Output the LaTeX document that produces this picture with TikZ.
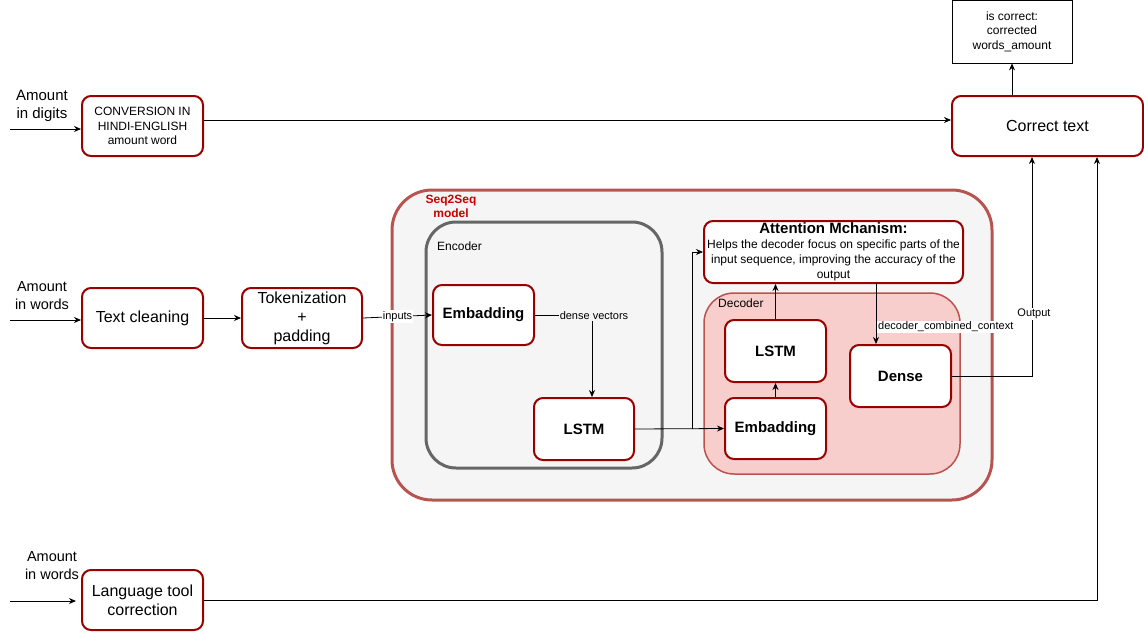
\documentclass[tikz,border=0pt]{standalone}
\usepackage{fontspec}
\setmainfont{Liberation Sans}
\usetikzlibrary{arrows.meta}
\definecolor{dred}{HTML}{990000}
\definecolor{sred}{HTML}{B85450}
\definecolor{lred}{HTML}{F8CECC}
\definecolor{lgray}{HTML}{F5F5F5}
\definecolor{mgray}{HTML}{666666}
\definecolor{tred}{HTML}{CC0000}
\newcommand{\fs}[2]{\fontsize{#1}{#2}\selectfont}
\begin{document}
\begin{tikzpicture}[x=1pt,y=-1pt,
  rbox/.style={draw=dred, line width=2pt, rounded corners=9pt, fill=white, align=center, inner sep=0pt},
  arr/.style={-{Stealth[length=7pt,width=6pt]}, line width=0.8pt},
  lbl/.style={fill=white, inner sep=1pt, font=\fs{11}{13}},
  plain/.style={align=center, inner sep=0pt}]
\useasboundingbox (0,0) rectangle (1144,633);
% containers
\draw[sred, fill=lgray, line width=3pt, rounded corners=40pt] (392,190) rectangle (992,500);
\node[plain, text=tred, font=\bfseries\fs{12}{14}] (s2s) at (451,206) {Seq2Seq\\model};
\draw[mgray, fill=lgray, line width=3pt, rounded corners=30pt] (426,222) rectangle (662,468);
\node[plain, anchor=west, font=\fs{12}{14}] (enc) at (437,246) {Encoder};
\draw[sred, fill=lred, line width=1.5pt, rounded corners=30pt] (704,293) rectangle (960,474);
\node[plain, anchor=west, font=\fs{12}{14}] (dec) at (718,303) {Decoder};
% boxes
\node[rbox, minimum width=121pt, minimum height=60pt, font=\fs{12}{14.5}] (conv) at (142.5,126) {CONVERSION IN\\HINDI-ENGLISH\\amount word};
\node[rbox, minimum width=191pt, minimum height=60pt, font=\fs{16}{19}] (correct) at (1047.5,126) {Correct text};
\node[draw=black, line width=0.8pt, minimum width=120pt, minimum height=63pt, align=center, inner sep=0pt, font=\fs{12}{14.5}] (result) at (1012,31.5) {is correct:\\corrected\\words\_amount};
\node[rbox, minimum width=121pt, minimum height=60pt, font=\fs{16}{19}] (clean) at (142.5,318) {Text cleaning};
\node[rbox, minimum width=120pt, minimum height=60pt, font=\fs{16}{19}] (tok) at (302,318) {Tokenization\\+\\padding};
\node[rbox, minimum width=101pt, minimum height=60pt, font=\bfseries\fs{15}{18}] (emb1) at (483.5,315) {Embadding};
\node[rbox, minimum width=100pt, minimum height=62pt, font=\bfseries\fs{15}{18}] (lstm1) at (584,429) {LSTM};
\node[rbox, minimum width=259pt, minimum height=62pt, font=\fs{12}{15}] (att) at (833.5,252) {{\bfseries\fs{15}{16}Attention Mchanism:}\\Helps the decoder focus on specific parts of the\\input sequence, improving the accuracy of the\\output};
\node[rbox, minimum width=101pt, minimum height=62pt, font=\bfseries\fs{15}{18}] (lstm2) at (775.5,351) {LSTM};
\node[rbox, minimum width=101pt, minimum height=61pt, font=\bfseries\fs{15}{18}] (emb2) at (775.5,428.5) {Embadding};
\node[rbox, minimum width=101pt, minimum height=62pt, font=\bfseries\fs{15}{18}] (dense) at (900.5,376) {Dense};
\node[rbox, minimum width=121pt, minimum height=60pt, font=\fs{16}{19}] (lang) at (142.5,600) {Language tool\\correction};
% side labels
\node[plain, font=\fs{15}{18}] (l1) at (42,106) {Amount\\in digits};
\node[plain, font=\fs{14.5}{18}] (l2) at (42,296) {Amount\\in words};
\node[plain, font=\fs{14.5}{18}] (l3) at (52,566) {Amount\\in words};
% free ends
\coordinate (i1) at (10,129);
\coordinate (i2) at (10,320);
\coordinate (i3) at (10,601);
\coordinate (i3e) at (76,601);
\coordinate (j) at (692,429);
\coordinate (a1) at (876,283);
% connectors
\draw[arr] (i1) -- (i1 -| conv.west);
\draw[arr] (i2) -- (i2 -| clean.west);
\draw[arr] (i3) -- (i3e);
\draw[arr] ([yshift=6pt]conv.east) -- ([yshift=6pt]correct.west);
\draw[arr] (result.south |- correct.north) -- (result.south);
\draw[arr] (clean) -- (tok);
\draw[arr] (tok.east) -- node[lbl] {inputs} (emb1.west);
\draw[arr] (emb1.east) -| ([xshift=8pt]lstm1.north);
\node[lbl, fill=lgray] (dv) at (594,316) {dense vectors};
\draw[arr] (lstm1.east) -- (emb2.west);
\draw[arr] (j) |- (att.west);
\draw[arr] (emb2.north) -- (lstm2.south);
\draw[arr] (lstm2.north) -- (lstm2.north |- att.south);
\draw[arr] (a1) -- (a1 |- dense.north);
\node[lbl, anchor=west] (dcc) at (877,327) {decoder\_combined\_context};
\draw[arr] (dense.east) -| ([xshift=-15.5pt]correct.south);
\node[lbl] (out) at (1034,314) {Output};
\draw[arr] (lang.east) -| ([xshift=49.5pt]correct.south);
\end{tikzpicture}
\end{document}
